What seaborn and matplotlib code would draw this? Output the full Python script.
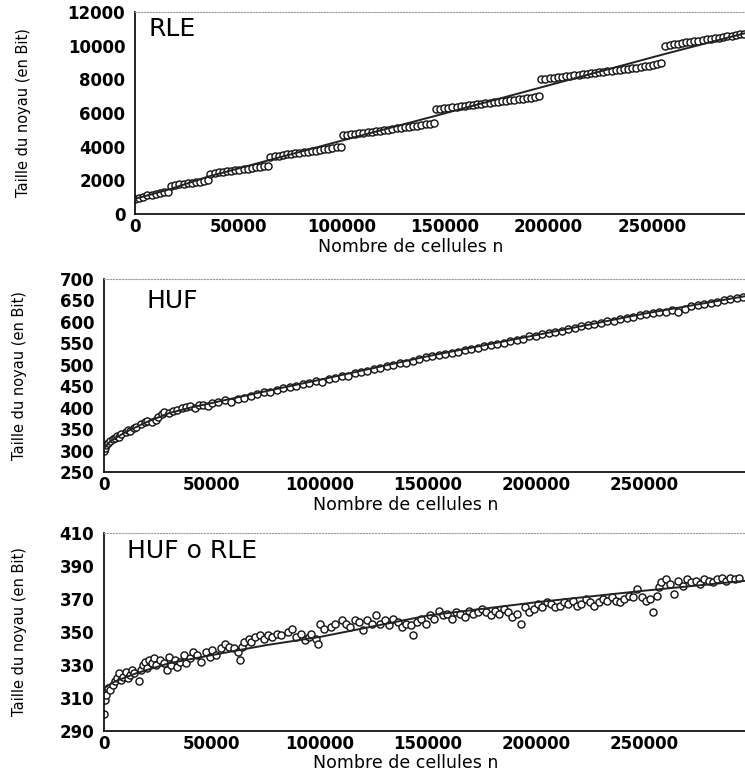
import pandas as pd
import seaborn as sns
import matplotlib.pyplot as plt

# ---- data (n in thousands of cells, size in bits) ----
# RLE: stair-step point clouds + fitted line
rle_n = [0, 2, 4, 6, 8, 10, 12, 14, 16,
         17.5, 19.5, 21.5, 23.5, 25.5, 27.5, 29.5, 31.5, 33.5, 35.5,
         36.5, 38.5, 40.5, 42.5, 44.5, 46.5, 48.5, 50.5, 52.5, 54.5, 56.5, 58.5, 60.5, 62.5, 64.5,
         65.5, 67.5, 69.5, 71.5, 73.5, 75.5, 77.5, 79.5, 81.5, 83.5, 85.5, 87.5, 89.5, 91.5, 93.5, 95.5, 97.5, 99.5,
         100.5, 102.5, 104.5, 106.5, 108.5, 110.5, 112.5, 114.5, 116.5, 118.5, 120.5, 122.5, 124.5, 126.5,
         128.5, 130.5, 132.5, 134.5, 136.5, 138.5, 140.5, 142.5, 144.5,
         145.5, 147.5, 149.5, 151.5, 153.5, 155.5, 157.5, 159.5, 161.5, 163.5, 165.5, 167.5, 169.5, 171.5,
         173.5, 175.5, 177.5, 179.5, 181.5, 183.5, 185.5, 187.5, 189.5, 191.5, 193.5, 195.5,
         196.5, 198.5, 200.5, 202.5, 204.5, 206.5, 208.5, 210.5, 212.5, 214.5, 216.5, 218.5, 220.5, 222.5, 224.5,
         226.5, 228.5, 230.5, 232.5, 234.5, 236.5, 238.5, 240.5, 242.5, 244.5, 246.5, 248.5, 250.5, 252.5, 254.5,
         256.5, 258.5, 260.5, 262.5, 264.5, 266.5, 268.5, 270.5, 272.5, 274.5, 276.5, 278.5, 280.5, 282.5, 284.5,
         286.5, 288.5, 290.5, 292.5, 294.5]
rle_v = [920, 960, 1020, 1100, 1150, 1190, 1240, 1280, 1330,
         1680, 1720, 1760, 1790, 1820, 1850, 1890, 1920, 1960, 2000,
         2400, 2440, 2480, 2510, 2540, 2570, 2600, 2630, 2660, 2700, 2730, 2770, 2800, 2840, 2880,
         3400, 3440, 3470, 3510, 3540, 3580, 3610, 3640, 3670, 3710, 3740, 3770, 3800, 3840, 3880, 3920, 3960, 4010,
         4680, 4710, 4740, 4770, 4800, 4830, 4860, 4890, 4920, 4950, 4980, 5010, 5050, 5080,
         5110, 5150, 5180, 5210, 5250, 5290, 5330, 5370, 5420,
         6220, 6250, 6280, 6310, 6340, 6370, 6400, 6430, 6460, 6490, 6510, 6540, 6570, 6600,
         6630, 6660, 6690, 6720, 6750, 6780, 6810, 6850, 6880, 6920, 6960, 7010,
         8000, 8030, 8060, 8090, 8120, 8150, 8180, 8210, 8240, 8270, 8300, 8330, 8360, 8390, 8420,
         8450, 8480, 8510, 8540, 8570, 8600, 8630, 8660, 8700, 8740, 8780, 8820, 8860, 8910, 8960,
         10000, 10040, 10080, 10110, 10150, 10190, 10220, 10260, 10300, 10330, 10370, 10410, 10440, 10480, 10520,
         10560, 10600, 10640, 10680, 10720]
rle_fit_n = [0, 17, 35, 64, 100, 145, 196, 256, 295]
rle_fit_v = [900, 1480, 2210, 3170, 4360, 5820, 7510, 9500, 10740]

# HUF
huf_n = [0, 0.5, 1, 2, 3, 4, 5, 6, 7, 8, 10, 11, 12, 14, 15, 17, 19, 20, 22, 24, 25, 27, 28, 30,
         32, 34, 36, 38, 40, 42, 44, 46, 48, 50, 53, 56, 59, 62, 65, 68, 71, 74, 77, 80, 83, 86,
         89, 92, 95, 98, 101, 104, 107, 110, 113, 116, 119, 122, 125, 128, 131, 134, 137, 140, 143,
         146, 149, 152, 155, 158, 161, 164, 167, 170, 173, 176, 179, 182, 185, 188, 191, 194, 197,
         200, 203, 206, 209, 212, 215, 218, 221, 224, 227, 230, 233, 236, 239, 242, 245, 248, 251,
         254, 257, 260, 263, 266, 269, 272, 275, 278, 281, 284, 287, 290, 293, 296]
huf_v = [298, 305, 312, 318, 323, 327, 330, 333, 331, 338, 343, 347, 345, 353, 356, 362, 366, 368,
         366, 372, 378, 386, 389, 388, 392, 395, 398, 401, 403, 399, 405, 407, 404, 410, 413, 417,
         414, 420, 423, 426, 432, 436, 437, 442, 445, 449, 451, 454, 458, 461, 460, 467, 470, 474,
         473, 480, 483, 486, 490, 493, 497, 499, 503, 505, 509, 513, 517, 520, 522, 524, 528, 530,
         534, 537, 540, 544, 546, 549, 551, 556, 558, 561, 566, 568, 571, 573, 576, 579, 583, 585,
         590, 592, 595, 597, 601, 603, 606, 608, 612, 616, 618, 620, 622, 624, 627, 624, 631, 636,
         639, 641, 643, 646, 650, 653, 655, 658]
huf_fit_n = [0, 3, 10, 20, 30, 40, 50, 70, 100, 150, 200, 250, 297]
huf_fit_v = [305, 322, 343, 367, 387, 400, 411, 433, 465, 520, 569, 619, 660]

# HUF o RLE
hr_n = [0, 0.5, 1, 2, 3, 4, 5, 6, 7, 8, 9, 10, 11, 12, 13, 14, 16, 17, 18, 19, 20, 21, 22, 23,
        24, 26, 28, 29, 30, 31, 33, 34, 35, 37, 38, 40, 41, 43, 45, 47, 49, 50, 52, 54, 56, 58,
        60, 62, 63, 64, 65, 67, 68, 70, 72, 74, 76, 78, 80, 82, 85, 87, 89, 91, 93, 95, 96, 98,
        99, 100, 102, 105, 107, 110, 112, 114, 116, 118, 120, 122, 124, 126, 128, 130, 132, 134,
        136, 138, 140, 142, 143, 145, 147, 149, 151, 153, 155, 157, 159, 161, 163, 165, 167, 169,
        171, 173, 175, 177, 179, 181, 183, 185, 187, 189, 191, 193, 195, 197, 199, 201, 203, 205,
        207, 209, 211, 213, 215, 217, 219, 221, 223, 225, 227, 229, 231, 233, 235, 237, 239, 241,
        243, 245, 247, 249, 251, 253, 254, 256, 257, 258, 260, 262, 264, 266, 268, 270, 272, 274,
        276, 278, 280, 282, 284, 286, 288, 290, 292, 294]
hr_v = [300, 309, 312, 316, 315, 318, 320, 322, 325, 321, 323, 326, 322, 324, 327, 325, 320, 327,
        330, 332, 328, 333, 331, 334, 330, 333, 331, 327, 335, 330, 333, 329, 332, 336, 331, 334,
        338, 336, 332, 338, 335, 339, 336, 340, 343, 341, 340, 338, 333, 341, 344, 346, 344, 347,
        348, 346, 348, 347, 349, 348, 350, 352, 347, 349, 345, 347, 349, 346, 343, 355, 352, 353,
        355, 357, 355, 353, 357, 356, 351, 357, 355, 360, 355, 357, 354, 358, 356, 353, 355, 354,
        348, 356, 358, 355, 360, 358, 363, 360, 361, 358, 362, 361, 359, 363, 361, 362, 364, 362,
        360, 363, 361, 364, 362, 359, 361, 355, 365, 362, 364, 367, 365, 368, 367, 365, 366, 368,
        367, 369, 366, 367, 370, 368, 366, 368, 370, 369, 371, 369, 368, 370, 372, 371, 376, 371,
        369, 370, 362, 372, 377, 380, 382, 379, 373, 381, 378, 382, 380, 381, 379, 382, 381, 380,
        382, 383, 381, 383, 382, 383]
hr_fit_n = [0, 5, 15, 30, 50, 75, 100, 150, 200, 250, 297]
hr_fit_v = [316, 320, 325, 331, 336, 342, 347, 360, 368, 375, 381]

panels = [
    ("RLE", rle_n, rle_v, rle_fit_n, rle_fit_v, [0, 2000, 4000, 6000, 8000, 10000, 12000]),
    ("HUF", huf_n, huf_v, huf_fit_n, huf_fit_v, [250, 300, 350, 400, 450, 500, 550, 600, 650, 700]),
    ("HUF o RLE", hr_n, hr_v, hr_fit_n, hr_fit_v, [290, 310, 330, 350, 370, 390, 410]),
]
xticks = [0, 50000, 100000, 150000, 200000, 250000]

sns.set_style("white")
plt.rcParams['font.family'] = ['DejaVu Sans']
plt.rcParams['text.color'] = 'black'
plt.rcParams['axes.labelcolor'] = 'black'

fig = plt.figure(figsize=(7.45, 7.74), dpi=100)
# [left, bottom, width, height, xmax, ylabel x, title x, title y, xlabel x, xlabel y]
boxes = [
    [0.1812, 0.7235, 0.8188, 0.2610, 295000, -0.17, 0.022, 0.975, 0.452, -0.118],
    [0.1396, 0.3902, 0.8604, 0.2494, 296800, -0.12, 0.066, 0.95, 0.47, -0.122],
    [0.1396, 0.0556, 0.8604, 0.2558, 296800, -0.12, 0.036, 0.97, 0.47, -0.114],
]

for (name, n, v, fn, fv, yticks), box in zip(panels, boxes):
    ax = fig.add_axes(box[:4])
    pts = pd.DataFrame({"n": [k * 1000 for k in n], "v": v})
    fit = pd.DataFrame({"n": [k * 1000 for k in fn], "v": fv})
    sns.scatterplot(data=pts, x="n", y="v", ax=ax, marker="o", s=26,
                    facecolor="white", edgecolor="#111111", linewidth=1.0, zorder=2)
    sns.lineplot(data=fit, x="n", y="v", ax=ax, color="#222222", lw=1.4,
                 sort=False, estimator=None, zorder=3)
    ax.set_xlim(0, box[4])
    ax.set_ylim(yticks[0], yticks[-1])
    ax.set_xticks(xticks)
    ax.set_xticklabels([str(t) for t in xticks])
    ax.set_yticks(yticks)
    ax.tick_params(labelsize=12, length=3, direction="in", colors="black")
    ax.tick_params(axis="x", pad=3)
    ax.tick_params(axis="y", pad=7)
    for lab in ax.get_xticklabels() + ax.get_yticklabels():
        lab.set_fontweight("bold")
    ax.set_xlabel("Nombre de cellules n", fontsize=12.5, va="top")
    ax.xaxis.set_label_coords(box[8], box[9])
    ax.set_ylabel("Taille du noyau (en Bit)", fontsize=10.5)
    ax.yaxis.set_label_coords(box[5], 0.5)
    ax.spines["right"].set_visible(False)
    ax.spines["top"].set_linestyle(":")
    ax.spines["top"].set_color("#999999")
    ax.spines["left"].set_linewidth(1.2)
    ax.spines["bottom"].set_linewidth(1.2)
    ax.spines["left"].set_color("black")
    ax.spines["bottom"].set_color("black")
    ax.text(box[6], box[7], name, transform=ax.transAxes,
            fontsize=18, va="top", ha="left", color="black")

fig.savefig("out.png", dpi=100)
